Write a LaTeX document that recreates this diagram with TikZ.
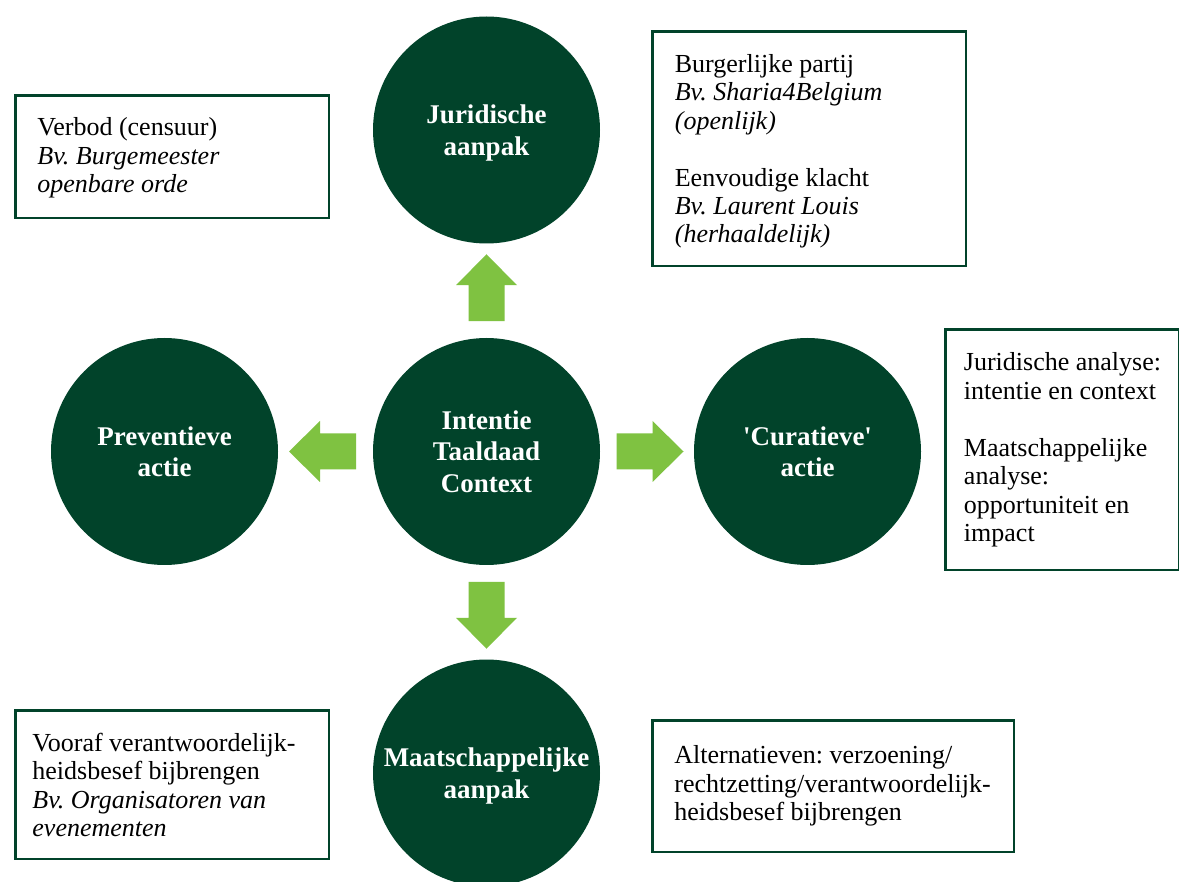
\documentclass[tikz,border=0pt]{standalone}
\usepackage{fontspec}
\setmainfont{Liberation Serif}
\usetikzlibrary{calc}
\definecolor{dkgreen}{RGB}{1,67,42}
\definecolor{ltgreen}{RGB}{127,194,65}
\tikzset{
  circ/.style={circle, fill=dkgreen, draw=none, minimum size=227pt, inner sep=0pt,
    text=white, align=center, font=\bfseries\fontsize{27pt}{31.5pt}\selectfont, text depth=0pt},
  infobox/.style={draw=dkgreen, line width=2.5pt, fill=white, inner sep=0pt, anchor=north west},
  infotxt/.style={anchor=west, align=left, inner sep=0pt, text=black,
    font=\frenchspacing\fontsize{26pt}{28.5pt}\selectfont},
  blockarrow/.style={fill=ltgreen, draw=none},
}
\newcommand\greenarrow[2]{%
  \fill[blockarrow, shift={(#1)}, rotate=#2]
    (-30.5,-18) -- (5.5,-18) -- (5.5,-30.5) -- (36.5,0) -- (5.5,30.5) -- (5.5,18) -- (-30.5,18) -- cycle;}
\frenchspacing
\begin{document}
\begin{tikzpicture}[x=1pt,y=-1pt]
\useasboundingbox (0,0) rectangle (1179,882);
\fill[white] (0,0) rectangle (1179,882);

% circles
\node[circ] (jur)  at (486.5,130)   {Juridische\\aanpak};
\node[circ] (ctr)  at (486.5,451.5) {Intentie\\Taaldaad\\Context};
\node[circ] (prev) at (164.5,451.5) {Preventieve\\actie};
\node[circ] (cur)  at (807.5,451.5) {\textquotesingle Curatieve\textquotesingle\\actie};
\node[circ] (maat) at (486.5,773)   {Maatschappelijke\\aanpak};

% block arrows
\coordinate (aup)    at ($(ctr.north)!0.5!(jur.south)$);
\coordinate (adown)  at ($(ctr.south)!0.5!(maat.north)$);
\coordinate (aleft)  at ($(ctr.west)!0.5!(prev.east)$);
\coordinate (aright) at ($(ctr.east)!0.5!(cur.west)$);
\greenarrow{aup}{90}
\greenarrow{adown}{-90}
\greenarrow{aleft}{180}
\greenarrow{aright}{0}

% info boxes
\node[infobox, minimum width=313.5pt, minimum height=122.5pt] (b1) at (14.25,94.25) {};
\node[infotxt] (t1) at ([xshift=23pt,yshift=-1.5pt]b1.west)
  {Verbod (censuur)\\ \textit{Bv. Burgemeester}\\ \textit{openbare orde}};

\node[infobox, minimum width=313.5pt, minimum height=234.5pt] (b2) at (651.25,30.25) {};
\node[infotxt] (t2) at ([xshift=23.4pt,yshift=-2.5pt]b2.west)
  {Burgerlijke partij\\ \textit{Bv. Sharia4Belgium}\\ \textit{(openlijk)}\\[28.5pt]
   Eenvoudige klacht\\ \textit{Bv. Laurent Louis}\\ \textit{(herhaaldelijk)}};

\node[infobox, minimum width=233.5pt, minimum height=240.5pt] (b3) at (944.25,328.25) {};
\node[infotxt] (t3) at ([xshift=19.5pt]b3.west)
  {Juridische analyse:\\ intentie en context\\[28.5pt]
   Maatschappelijke\\ analyse:\\ opportuniteit en\\ impact};

\node[infobox, minimum width=313.5pt, minimum height=148.5pt] (b4) at (14.25,709.25) {};
\node[infotxt] (t4) at ([xshift=18pt]b4.west)
  {Vooraf verantwoordelijk-\\ heidsbesef bijbrengen\\ \textit{Bv. Organisatoren van}\\ \textit{evenementen}};

\node[infobox, minimum width=361.5pt, minimum height=131.5pt] (b5) at (651.25,719.25) {};
\node[infotxt] (t5) at ([xshift=23pt]b5.west)
  {Alternatieven: verzoening/\\ rechtzetting/verantwoordelijk-\\ heidsbesef bijbrengen};
\end{tikzpicture}
\end{document}
